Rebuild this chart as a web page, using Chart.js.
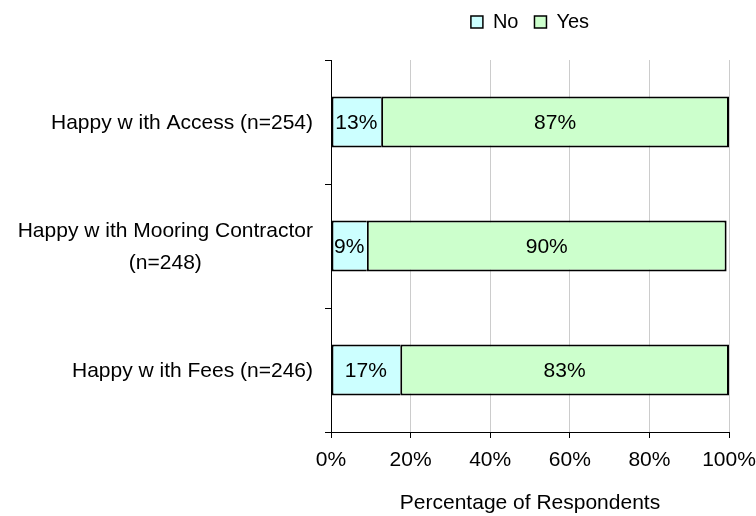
<!DOCTYPE html>
<html>
<head>
<meta charset="utf-8">
<script src="https://cdn.jsdelivr.net/npm/chart.js@4.4.1/dist/chart.umd.min.js"></script>
<style>
  html, body { margin: 0; padding: 0; background: #ffffff; }
  canvas { display: block; }
</style>
</head>
<body>
<canvas id="c" width="756" height="516"></canvas>
<script>
// ---- data ----
const categories = [
  ["Happy w ith Access (n=254)"],
  ["Happy w ith Mooring Contractor", "(n=248)"],
  ["Happy w ith Fees (n=246)"]
];
const seriesNames = ["No", "Yes"];
const noValues  = [12.6, 9.0, 17.4];
const yesValues = [87.4, 90.4, 82.6];
const xTickValues = [0, 20, 40, 60, 80, 100];
const xAxisTitle = "Percentage of Respondents";

// ---- style ----
const FONT = '"Liberation Sans", Arial, Helvetica, sans-serif';
Chart.defaults.font.family = FONT;
Chart.defaults.font.size = 21;
Chart.defaults.color = '#000000';

const noColor = '#CCFFFF';
const yesColor = '#CCFFCC';

const layoutPlugin = {
  id: 'layoutFix',
  afterLayout(chart) {
    const lg = chart.legend;
    const ca = chart.chartArea;
    if (lg) {
      lg.left = ca.left;
      lg.right = ca.right;
      lg.top = -4;
      lg.bottom = lg.top + lg.height;
    }
  }
};

const labelPlugin = {
  id: 'labels',
  afterDatasetsDraw(chart) {
    const ctx = chart.ctx;
    ctx.save();
    ctx.font = '21px ' + FONT;
    ctx.fillStyle = '#000';
    ctx.textAlign = 'center';
    ctx.textBaseline = 'middle';
    chart.data.datasets.forEach((ds, di) => {
      const meta = chart.getDatasetMeta(di);
      meta.data.forEach((el, i) => {
        const p = el.getCenterPoint();
        ctx.fillText(Math.round(ds.data[i]) + '%', p.x, p.y + 1);
      });
    });
    // category labels
    const ys = chart.scales.y;
    const rightEdge = ys.right - 18;
    const lh = 32;
    categories.forEach((lines, i) => {
      const y = ys.getPixelForValue(i);
      let maxW = 0;
      lines.forEach(l => { maxW = Math.max(maxW, ctx.measureText(l).width); });
      const cx = rightEdge - maxW / 2;
      lines.forEach((l, j) => {
        ctx.fillText(l, cx, y + (j - (lines.length - 1) / 2) * lh + 1);
      });
    });
    ctx.restore();
  }
};

new Chart(document.getElementById('c'), {
  type: 'bar',
  data: {
    labels: categories.map(c => c.join(' ')),
    datasets: [
      {
        label: seriesNames[0],
        data: noValues,
        backgroundColor: noColor,
        borderColor: '#000000',
        borderWidth: 2,
        borderSkipped: 'end'
      },
      {
        label: seriesNames[1],
        data: yesValues,
        backgroundColor: yesColor,
        borderColor: '#000000',
        borderWidth: 2,
        borderSkipped: false
      }
    ]
  },
  options: {
    indexAxis: 'y',
    responsive: false,
    animation: false,
    devicePixelRatio: 1,
    layout: { padding: { top: 14, right: 27, bottom: 0, left: 0 } },
    datasets: { bar: { barPercentage: 0.41, categoryPercentage: 1.0 } },
    plugins: {
      legend: {
        display: true,
        position: 'top',
        align: 'center',
        labels: {
          boxWidth: 12,
          boxHeight: 12,
          padding: 16,
          font: { size: 20 },
          color: '#000',
          generateLabels(chart) {
            const items = Chart.defaults.plugins.legend.labels.generateLabels(chart);
            items.forEach(it => { it.lineWidth = 1.5; it.strokeStyle = '#000'; });
            return items;
          }
        }
      },
      tooltip: { enabled: false }
    },
    scales: {
      x: {
        stacked: true,
        min: 0,
        max: 100,
        afterBuildTicks(scale) {
          scale.ticks = xTickValues.map(v => ({ value: v }));
        },
        ticks: {
          callback: v => v + '%',
          padding: 10,
          font: { size: 21 },
          color: '#000',
          maxRotation: 0
        },
        grid: {
          color: '#cccccc',
          lineWidth: 1,
          tickColor: '#000',
          tickLength: 6,
          drawTicks: true
        },
        border: { color: '#000', width: 1 },
        title: {
          display: true,
          text: xAxisTitle,
          font: { size: 21, lineHeight: 1.2 },
          color: '#000',
          padding: { top: 0, bottom: 0 }
        },
        afterFit(scale) {
          scale.height = 84;
          scale.paddingLeft = 0;
          scale.paddingRight = 0;
        }
      },
      y: {
        stacked: true,
        offset: true,
        ticks: { display: false },
        grid: {
          display: true,
          drawOnChartArea: false,
          offset: true,
          tickColor: '#000',
          tickLength: 6
        },
        border: { color: '#000', width: 1 },
        afterFit(scale) { scale.width = 331; }
      }
    }
  },
  plugins: [layoutPlugin, labelPlugin]
});
</script>
</body>
</html>
